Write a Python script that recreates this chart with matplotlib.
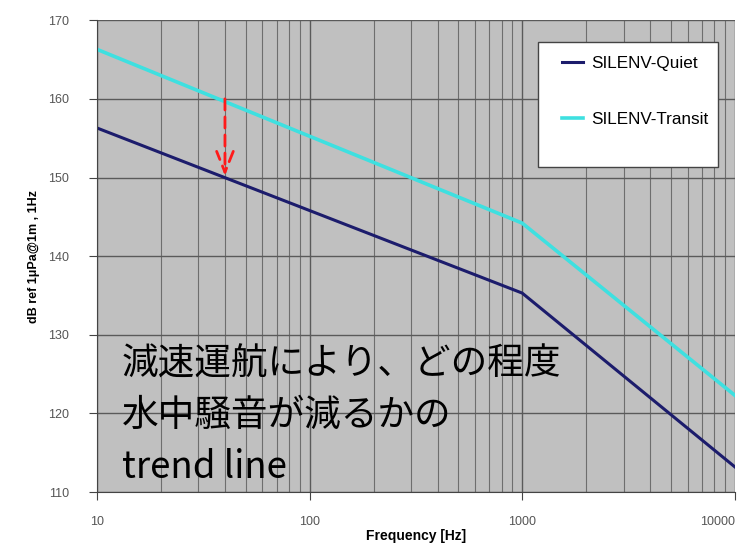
import matplotlib.pyplot as plt
from matplotlib.patches import Rectangle
from matplotlib.ticker import FixedLocator, LogLocator, NullFormatter

# Trend lines (frequency in Hz, level in dB ref 1uPa@1m, 1Hz)
freq = [10, 1000, 10000]
quiet = [156.3, 135.3, 113.2]
transit = [166.3, 144.2, 122.3]

arrow_freq = 40
arrow_from = 160.0
arrow_to = 150.2

y_ticks = [110, 120, 130, 140, 150, 160, 170]
x_ticks = [10, 100, 1000, 10000]
x_labels = ["10", "100", "1000", "10000"]

note = "減速運航により、どの程度\n水中騒音が減るかの\ntrend line"

plt.rcParams['font.family'] = ['Liberation Sans', 'DejaVu Sans']

fig = plt.figure(figsize=(7.4, 5.47), dpi=100)
ax = fig.add_axes([0.131, 0.1005, 0.862, 0.8625])
ax.set_facecolor('#c0c0c0')

ax.set_xscale('log')
ax.set_xlim(10, 10000)
ax.set_ylim(110, 170)

# grid: horizontal major lines, vertical lines at every minor decade step
ax.xaxis.set_major_locator(FixedLocator(x_ticks))
ax.xaxis.set_minor_locator(LogLocator(base=10, subs=range(2, 10)))
ax.xaxis.set_minor_formatter(NullFormatter())
ax.set_xticks(x_ticks)
ax.set_xticklabels(x_labels)
ax.set_yticks(y_ticks)
ax.grid(True, which='major', axis='both', color='#5a5a5a', linewidth=1.0)
ax.grid(True, which='minor', axis='x', color='#6e6e6e', linewidth=0.8)
ax.set_axisbelow(True)

for side in ['top', 'right']:
    ax.spines[side].set_visible(False)
ax.spines['left'].set_color('#444444')
ax.spines['bottom'].set_color('#444444')
ax.tick_params(axis='y', which='major', direction='out', length=6, color='#444444',
               labelcolor='#555555', labelsize=9, pad=14)
ax.tick_params(axis='x', which='major', direction='out', length=6, color='#444444',
               labelcolor='#555555', labelsize=9, pad=11)
ax.tick_params(axis='x', which='minor', length=0)
ax.get_xticklabels()[-1].set_horizontalalignment('right')

ax.plot(freq, quiet, color='#1c1c6c', linewidth=2.2, label='SILENV-Quiet')
ax.plot(freq, transit, color='#3ee0e0', linewidth=2.6, label='SILENV-Transit')

# red dashed arrow showing the reduction
ax.annotate('', xy=(arrow_freq, arrow_to), xytext=(arrow_freq, arrow_from),
            arrowprops=dict(arrowstyle='->, head_length=1.5, head_width=0.6',
                            color='#ff1a1a', linestyle=(0, (4, 2.5)), linewidth=2.0,
                            shrinkA=0, shrinkB=0))

ax.set_xlabel('Frequency [Hz]', fontsize=10, fontweight='bold', labelpad=1)
ax.set_ylabel('dB ref 1μPa@1m , 1Hz', fontsize=9, fontweight='bold', labelpad=6)

# legend box drawn separately so the entries can sit near its top
box = Rectangle((0.691, 0.689), 0.282, 0.264, transform=ax.transAxes,
                facecolor='white', edgecolor='#444444', linewidth=1.0, zorder=4)
ax.add_patch(box)
leg = ax.legend(loc='upper left', bbox_to_anchor=(0.729, 0.925), fontsize=12.3,
                frameon=False, handlelength=1.25, handletextpad=0.45,
                labelspacing=2.45, borderpad=0, borderaxespad=0)
leg.set_zorder(5)

ax.text(0.039, 0.313, note, transform=ax.transAxes, fontsize=26.4, va='top', ha='left',
        linespacing=1.42, color='black', family=['Noto Sans CJK JP', 'DejaVu Sans'])

fig.savefig('out.png', dpi=100)
